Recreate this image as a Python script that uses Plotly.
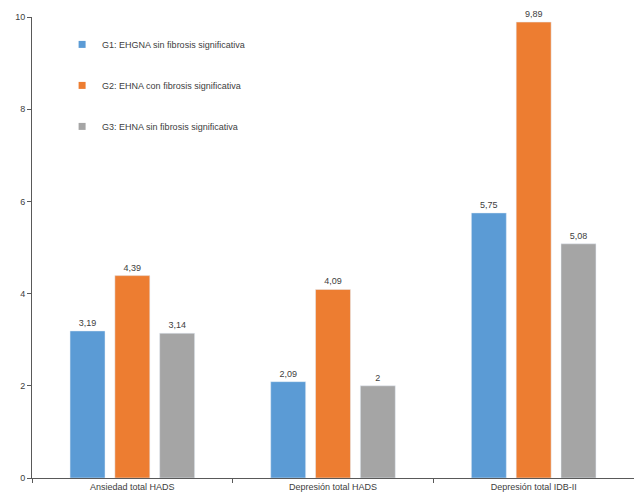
import plotly.graph_objects as go

categories = ["Ansiedad total HADS", "Depresión total HADS", "Depresión total IDB-II"]
series_names = ["G1: EHGNA sin fibrosis significativa",
                "G2: EHNA con fibrosis significativa",
                "G3: EHNA sin fibrosis significativa"]
g1 = [3.19, 2.09, 5.75]
g2 = [4.39, 4.09, 9.89]
g3 = [3.14, 2.0, 5.08]
g1_labels = ["3,19", "2,09", "5,75"]
g2_labels = ["4,39", "4,09", "9,89"]
g3_labels = ["3,14", "2", "5,08"]
colors = ["#5B9BD5", "#ED7D31", "#A5A5A5"]
y_ticks = [0, 2, 4, 6, 8, 10]

fig = go.Figure()
for i, (name, vals, labs) in enumerate(zip(series_names, [g1, g2, g3], [g1_labels, g2_labels, g3_labels])):
    fig.add_trace(go.Bar(
        x=categories, y=vals, name=name, marker_color=colors[i],
        text=labs, textposition="outside", cliponaxis=False,
        textfont=dict(size=9, color="#404040", family="Liberation Sans"),
        showlegend=False,
    ))
    # legend entry with a small square symbol
    fig.add_trace(go.Scatter(
        x=[None], y=[None], mode="markers", name=name,
        marker=dict(symbol="square", size=7, color=colors[i]),
        legendgroup=f"g{i}", showlegend=True,
    ))

fig.update_layout(
    width=634, height=498,
    margin=dict(l=32, r=0, t=17, b=20),
    plot_bgcolor="white", paper_bgcolor="white",
    barmode="group", bargap=0.33, bargroupgap=0.22,
    font=dict(family="Liberation Sans", size=9, color="#404040"),
    showlegend=True,
    legend=dict(x=0.05, y=0.972, xanchor="left", yanchor="top",
                tracegroupgap=22, font=dict(size=9, color="#404040"),
                bgcolor="rgba(0,0,0,0)", itemwidth=30),
    yaxis=dict(range=[0, 10], tickvals=y_ticks, showgrid=False,
               showline=True, linecolor="#595959", linewidth=1,
               ticks="outside", ticklen=4, tickcolor="#595959",
               zeroline=False, tickfont=dict(size=9)),
    xaxis=dict(showline=True, linecolor="#595959", linewidth=1,
               ticks="outside", ticklen=4, tickcolor="#595959",
               tickson="boundaries", showgrid=False,
               tickfont=dict(size=9)),
)

fig.write_html("out.html")
